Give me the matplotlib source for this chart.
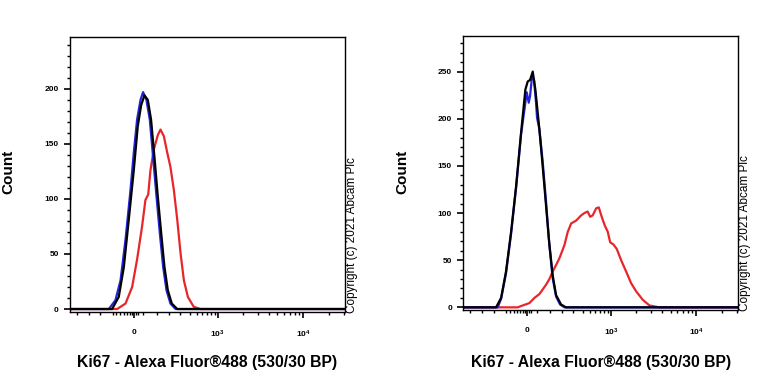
import numpy as np
import matplotlib.pyplot as plt
from matplotlib.ticker import FixedLocator, MultipleLocator

plt.rcParams['font.family'] = ['Liberation Sans', 'DejaVu Sans']
plt.rcParams['mathtext.default'] = 'regular'

# Панель 1 (левая): интенсивность / количество
l_blue_x = [-156, -111, -79, -49, -20, -1, 18, 38, 53, 73, 94, 115, 138, 161, 186, 212, 245, 292]
l_blue_y = [0, 8, 26, 63, 108, 142, 172, 190, 197, 190, 172, 138, 102, 69, 38, 17, 5, 0]
l_black_x = [-133, -90, -59, -30, -1, 22, 41.5, 61, 81.5, 102, 124, 147, 171, 196, 223, 257, 309]
l_black_y = [0, 11, 38, 81, 126, 166, 185, 194, 190, 172, 138, 102, 69, 38, 17, 5, 0]
l_red_x = [-100, -49, -10.5, 18, 47, 67, 84, 98, 120, 147, 166, 191, 218, 245, 276, 309, 343, 381, 430, 511, 620]
l_red_y = [0, 5, 20, 45, 75, 99, 104, 126, 145, 158, 163, 157, 142, 129, 108, 81, 51, 26, 11, 2, 0]

# Панель 2 (правая)
r_blue_x = [-187, -162, -128, -95, -64, -35, -2, 9.4, 17, 28.7, 40, 52, 58, 72, 92.6, 114, 136, 159, 184, 215.5, 252.5]
r_blue_y = [0, 9, 36, 78, 127, 183, 228, 217, 224, 245, 241, 217, 201, 189, 154, 111.5, 66, 31, 11.5, 3, 0]
r_black_x = [-200, -162, -128, -95, -64, -35, -9.8, 3.6, 17, 32.6, 48, 68, 88.5, 110, 132, 159, 184, 224, 267]
r_black_y = [0, 10, 38, 80, 129, 185, 231, 239.5, 241, 250, 231, 196, 157, 115, 73, 34, 13, 3, 0]
r_red_x = [-54.7, -25.4, 13.2, 42.3, 72, 114, 136, 159, 184.6, 210, 252.5, 283, 317, 371, 432, 476, 523,
           562, 604, 666, 717, 768, 845, 920, 982, 1075, 1175, 1324, 1516, 1735, 1986, 2373, 2842, 3715]
r_red_y = [0, 2, 4.5, 10, 14, 24, 30, 38, 45, 52, 66, 80, 89, 92, 97.5, 100, 101.6,
           96, 97.5, 105, 106, 97.5, 87, 80, 69, 66.6, 62, 50, 38, 25.6, 17, 8, 2, 0]

C = 215.0
XMIN, XMAX = -577, 30500


def fwd(x):
    return np.arcsinh(np.asarray(x) / C) / np.log(10)


def inv(u):
    return C * np.sinh(np.asarray(u) * np.log(10))


minor_x = ([-470, -330, -220, -130, -105, -80, -60, -40, -25, -10, 10, 25, 55] +
           [140, 230, 340, 460, 560, 650, 740, 830, 920] +
           list(range(2000, 10000, 1000)) + [20000, 30000])


def panel(rect, series, ymax, yticks, cx):
    ax = fig.add_axes(rect)
    for xs, ys, col in series:
        xs = [XMIN] + xs + [XMAX]
        ys = [0] + ys + [0]
        ax.plot(xs, ys, color=col, lw=1.6)
    ax.set_xscale('function', functions=(fwd, inv))
    ax.set_xlim(XMIN, XMAX)
    ax.set_ylim(-2.7, ymax)
    ax.xaxis.set_major_locator(FixedLocator([0, 1000, 10000]))
    ax.xaxis.set_minor_locator(FixedLocator(minor_x))
    ax.set_xticklabels(['0', '$10^3$', '$10^4$'])
    ax.set_yticks(yticks)
    ax.yaxis.set_minor_locator(MultipleLocator(10))
    ax.tick_params(which='major', length=4, width=1.2, labelsize=6, pad=8)
    ax.tick_params(which='minor', length=2.5, width=1)
    ax.tick_params(axis='y', pad=4)
    for lab in ax.get_xticklabels() + ax.get_yticklabels():
        lab.set_fontweight('bold')
    for s in ax.spines.values():
        s.set_linewidth(1.0)
    fig.text(cx, 0.552, 'Count', rotation=90, fontsize=11, fontweight='bold',
             ha='center', va='center')
    fig.text(rect[0] + rect[2] / 2, 0.057, 'Ki67 - Alexa Fluor®488 (530/30 BP)',
             fontsize=11.3, fontweight='bold', ha='center', va='center')
    ax.text(1.026, -0.005, 'Copyright (c) 2021 Abcam Plc', transform=ax.transAxes,
            rotation=90, fontsize=8.5, ha='center', va='bottom')
    return ax


fig = plt.figure(figsize=(7.68, 3.84), dpi=100)

panel([0.0911, 0.1875, 0.358, 0.716],
      [(l_red_x, l_red_y, '#e8262a'), (l_blue_x, l_blue_y, '#2424d8'), (l_black_x, l_black_y, 'black')],
      247, [0, 50, 100, 150, 200], 8 / 768)
panel([0.603, 0.193, 0.358, 0.713],
      [(r_red_x, r_red_y, '#e8262a'), (r_blue_x, r_blue_y, '#2424d8'), (r_black_x, r_black_y, 'black')],
      287.6, [0, 50, 100, 150, 200, 250], 402 / 768)

fig.savefig('out.png', dpi=100)
